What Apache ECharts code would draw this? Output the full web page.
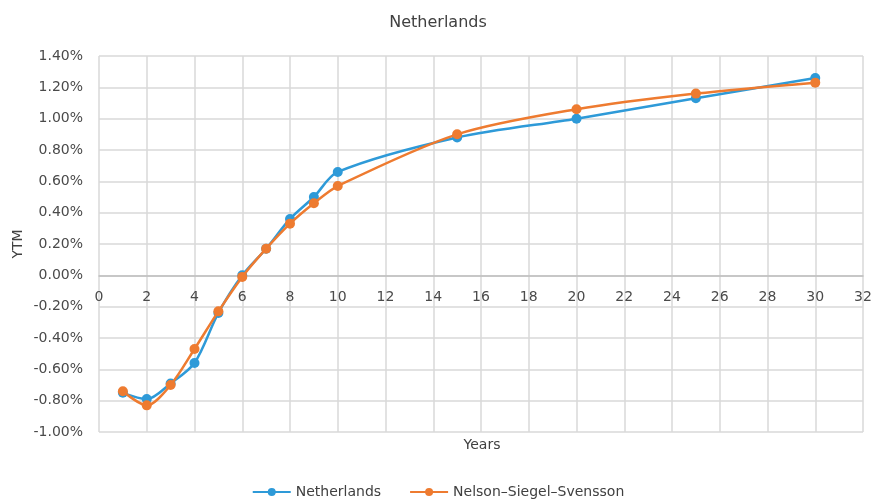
<!DOCTYPE html>
<html>
<head>
<meta charset="utf-8">
<script src="https://cdn.jsdelivr.net/npm/echarts@6/dist/echarts.min.js"></script>
<style>html,body{margin:0;padding:0;background:#fff}#c{width:876px;height:500px}</style>
</head>
<body>
<div id="c"></div>
<script>
const years = [1, 2, 3, 4, 5, 6, 7, 8, 9, 10, 15, 20, 25, 30];
const netherlands = [-0.75, -0.79, -0.69, -0.56, -0.24, 0.00, 0.17, 0.36, 0.50, 0.66, 0.88, 1.00, 1.13, 1.26];
const nss = [-0.74, -0.83, -0.70, -0.47, -0.23, -0.01, 0.17, 0.33, 0.46, 0.57, 0.90, 1.06, 1.16, 1.23];
const seriesNames = ['Netherlands', 'Nelson\u2013Siegel\u2013Svensson'];
const yMin = -1.0, yMax = 1.4;

const chart = echarts.init(document.getElementById('c'));
const font = "'DejaVu Sans', 'Open Sans', sans-serif";
const grid = { left: 99, right: 13, top: 56, bottom: 68 };
const plotH = 500 - grid.top - grid.bottom;
const zeroOffset = -plotH * (0 - yMin) / (yMax - yMin);
chart.setOption({
  animation: false,
  textStyle: { fontFamily: font },
  title: {
    text: 'Netherlands', left: 'center', top: 10,
    textStyle: { fontSize: 16, fontWeight: 'normal', color: '#404040', fontFamily: font }
  },
  legend: {
    bottom: -4, left: 'center', itemGap: 28, itemWidth: 38, itemHeight: 10,
    textStyle: { fontSize: 14, color: '#404040', fontFamily: font },
    data: seriesNames
  },
  grid: grid,
  graphic: [
    { type: 'text', x: 482, y: 445, style: { text: 'Years', fontSize: 14, fill: '#404040', fontFamily: font, align: 'center', verticalAlign: 'middle' } },
    { type: 'text', x: 18, y: 244, rotation: Math.PI / 2, style: { text: 'YTM', fontSize: 14, fill: '#404040', fontFamily: font, align: 'center', verticalAlign: 'middle' } }
  ],
  xAxis: {
    type: 'value', min: 0, max: 32, interval: 2, position: 'bottom', offset: zeroOffset,
    axisLine: { onZero: false, lineStyle: { color: '#bfbfbf', width: 1.5 } },
    axisTick: { show: false },
    axisLabel: { fontSize: 14, color: '#4a4a4a', margin: 15, fontFamily: font },
    splitLine: { show: true, lineStyle: { color: '#d9d9d9', width: 1.5 } }
  },
  yAxis: {
    type: 'value', min: yMin, max: yMax, interval: 0.2,
    axisLine: { show: false },
    axisTick: { show: false },
    axisLabel: { fontSize: 14, color: '#4a4a4a', margin: 16, fontFamily: font,
      formatter: v => v.toFixed(2) + '%' },
    splitLine: { show: true, lineStyle: { color: '#d9d9d9', width: 1.5 } }
  },
  series: [
    { name: seriesNames[0], type: 'line', smooth: 0.3, symbol: 'circle', symbolSize: 10,
      data: years.map((x, i) => [x, netherlands[i]]),
      lineStyle: { color: '#2e9ad8', width: 2.5 }, itemStyle: { color: '#2e9ad8' }, z: 2 },
    { name: seriesNames[1], type: 'line', smooth: 0.3, symbol: 'circle', symbolSize: 10,
      data: years.map((x, i) => [x, nss[i]]),
      lineStyle: { color: '#ee7b30', width: 2.5 }, itemStyle: { color: '#ee7b30' }, z: 3 }
  ]
});
</script>
</body>
</html>
